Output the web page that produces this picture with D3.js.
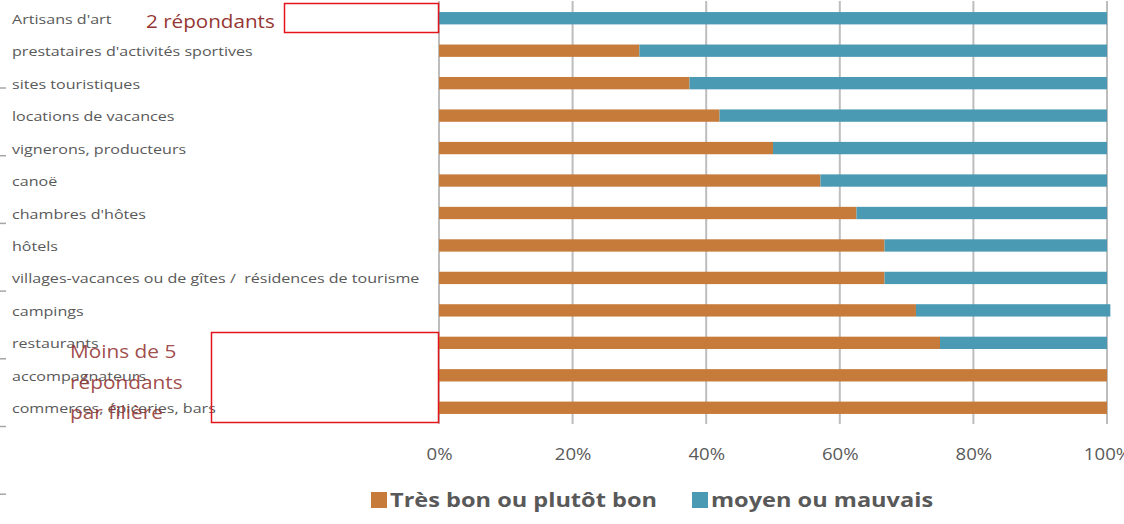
<!DOCTYPE html>
<html>
<head>
<meta charset="utf-8">
<script src="https://cdn.jsdelivr.net/npm/d3@7"></script>
<style>
  body { margin: 0; background: #fff; }
  svg { display: block; }
  text { white-space: pre; }
</style>
</head>
<body>
<div id="container"></div>
<script>
// data (share of answers, %)
const categories = [
  "Artisans d'art",
  "prestataires d'activités sportives",
  "sites touristiques",
  "locations de vacances",
  "vignerons, producteurs",
  "canoë",
  "chambres d'hôtes",
  "hôtels",
  "villages-vacances ou de gîtes /  résidences de tourisme",
  "campings",
  "restaurants",
  "accompagnateurs",
  "commerces, épiceries, bars"
];
const tresBon = [0, 30, 37.5, 42, 50, 57.1, 62.5, 66.7, 66.7, 71.4, 75, 100, 100];
const moyen = [100, 70, 62.5, 58, 50, 42.9, 37.5, 33.3, 33.3, 29.1, 25, 0, 0];
const tickValues = [0, 20, 40, 60, 80, 100];
const tickLabels = ['0%', '20%', '40%', '60%', '80%', '100%'];
const seriesNames = ['Très bon ou plutôt bon', 'moyen ou mauvais'];
const seriesColors = ['#c67b3a', '#4b9ab4'];
const note1 = ['2 répondants'];
const note2 = ['Moins de 5', 'répondants', 'par filière'];

const svgWidth = 1124;
const svgHeight = 524;
const plotLeft = 439, plotRight = 1107, plotTop = 2, plotBottom = 424;

const svg = d3.select('#container')
  .append('svg')
  .attr('width', svgWidth)
  .attr('height', svgHeight)
  .style('font-family', '"Open Sans", sans-serif');

// the source picture is stretched sideways, so text is widened a bit
function stretched(sel, x, y, sx) {
  return sel.attr('x', 0).attr('y', 0)
    .attr('transform', `translate(${x},${y}) scale(${sx},1)`);
}

const xScale = d3.scaleLinear()
  .domain([0, 100])
  .range([plotLeft, plotRight]);

const yScale = d3.scaleBand()
  .domain(categories)
  .range([plotTop, plotBottom])
  .paddingInner(0.62)
  .paddingOuter(0.31);

// vertical grid lines
svg.append('g')
  .selectAll('line')
  .data(tickValues)
  .enter()
  .append('line')
  .attr('x1', d => xScale(d))
  .attr('x2', d => xScale(d))
  .attr('y1', plotTop - 1)
  .attr('y2', plotBottom)
  .attr('stroke', '#bdbdbd')
  .attr('stroke-width', 2);

// bars
const rows = categories.map((c, i) => ({ cat: c, a: tresBon[i], b: moyen[i] }));
const barG = svg.append('g');
barG.selectAll('rect.good')
  .data(rows)
  .enter()
  .append('rect')
  .attr('class', 'good')
  .attr('x', d => xScale(0))
  .attr('y', d => yScale(d.cat))
  .attr('width', d => xScale(d.a) - xScale(0))
  .attr('height', yScale.bandwidth())
  .attr('fill', seriesColors[0]);
barG.selectAll('rect.bad')
  .data(rows)
  .enter()
  .append('rect')
  .attr('class', 'bad')
  .attr('x', d => xScale(d.a))
  .attr('y', d => yScale(d.cat))
  .attr('width', d => xScale(d.a + d.b) - xScale(d.a))
  .attr('height', yScale.bandwidth())
  .attr('fill', seriesColors[1]);

// category labels, left aligned
svg.append('g')
  .selectAll('text')
  .data(categories)
  .enter()
  .append('text')
  .attr('dominant-baseline', 'middle')
  .attr('fill', '#595959')
  .style('font-size', '13.3px')
  .text(d => d)
  .each(function (d) {
    stretched(d3.select(this), 12, yScale(d) + yScale.bandwidth() / 2 + 2, 1.21);
  });

// stray little dashes on the far left
svg.append('g')
  .selectAll('line')
  .data(d3.range(7))
  .enter()
  .append('line')
  .attr('x1', 0)
  .attr('x2', 6)
  .attr('y1', d => 88 + d * 67.7)
  .attr('y2', d => 88 + d * 67.7)
  .attr('stroke', '#a6a6a6')
  .attr('stroke-width', 1.5);

// x axis
const xAxis = d3.axisBottom(xScale)
  .tickValues(tickValues)
  .tickFormat((d, i) => tickLabels[i])
  .tickSize(0)
  .tickPadding(0);

const axisG = svg.append('g')
  .attr('transform', `translate(0, ${plotBottom + 25})`)
  .call(xAxis);
axisG.select('.domain').remove();
axisG.selectAll('text')
  .attr('fill', '#595959')
  .attr('transform', 'scale(1.2,1)')
  .style('font-size', '15.5px')
  .style('font-family', '"Open Sans", sans-serif');

// legend
const legend = svg.append('g');
const legendX = [371, 692];
seriesNames.forEach((name, i) => {
  legend.append('rect')
    .attr('x', legendX[i])
    .attr('y', 492)
    .attr('width', 16)
    .attr('height', 16)
    .attr('fill', seriesColors[i]);
  const t = legend.append('text')
    .attr('fill', '#595959')
    .style('font-size', '19px')
    .style('font-weight', 'bold')
    .text(name);
  stretched(t, legendX[i] + 19, 507, 1.24);
});

// red annotation boxes
svg.append('rect')
  .attr('x', 284.5)
  .attr('y', 3.5)
  .attr('width', 154)
  .attr('height', 29)
  .attr('fill', 'none')
  .attr('stroke', '#e3141b')
  .attr('stroke-width', 1.5);

svg.append('rect')
  .attr('x', 211.5)
  .attr('y', 332.5)
  .attr('width', 227)
  .attr('height', 90)
  .attr('fill', 'none')
  .attr('stroke', '#e3141b')
  .attr('stroke-width', 1.5);

const n1 = svg.append('text')
  .attr('fill', '#953735')
  .style('font-size', '17.5px')
  .text(note1[0]);
stretched(n1, 146, 28, 1.18);

svg.append('g')
  .selectAll('text')
  .data(note2)
  .enter()
  .append('text')
  .attr('fill', '#953735')
  .attr('fill-opacity', 0.9)
  .style('font-size', '17.5px')
  .text(d => d)
  .each(function (d, i) {
    stretched(d3.select(this), 70, 358 + i * 30.5, 1.19);
  });
</script>
</body>
</html>
